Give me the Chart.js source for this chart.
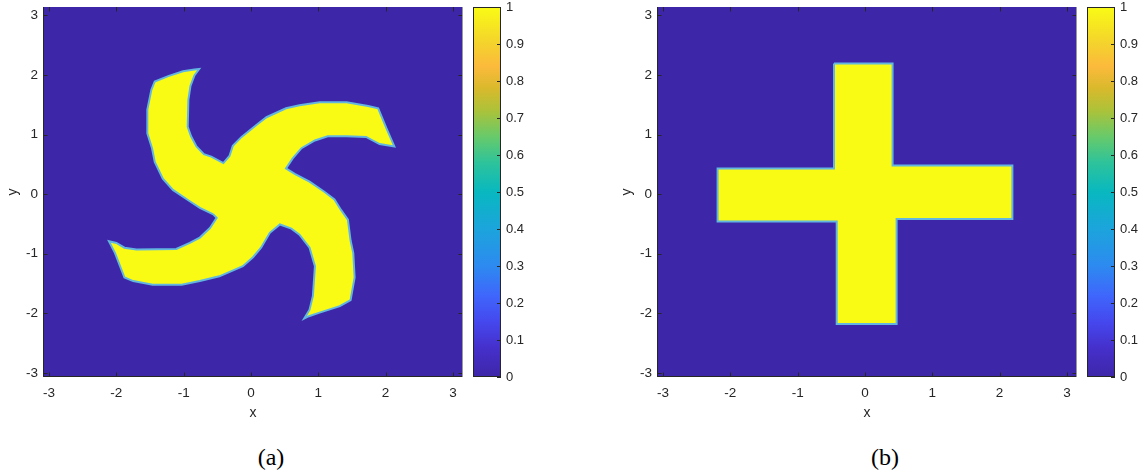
<!DOCTYPE html>
<html>
<head>
<meta charset="utf-8">
<script src="https://cdn.jsdelivr.net/npm/chart.js@4.4.1/dist/chart.umd.min.js"></script>
<style>
  body { margin: 0; background: #fff; width: 1141px; height: 476px; position: relative; overflow: hidden; }
  canvas { position: absolute; top: 0; }
  .cap { position: absolute; top: 443px; width: 60px; line-height: 28px; text-align: center;
         font-family: "Liberation Serif", serif; font-size: 24px; color: #000; }
</style>
</head>
<body>
<canvas id="plotA" width="470" height="440" style="left:0px"></canvas>
<canvas id="barA" width="68" height="440" style="left:470px"></canvas>
<canvas id="plotB" width="470" height="440" style="left:614px"></canvas>
<canvas id="barB" width="68" height="440" style="left:1084px"></canvas>
<div class="cap" style="left:241px">(a)</div>
<div class="cap" style="left:855px">(b)</div>

<script>
// axis ticks and limits
const xTicks = [-3, -2, -1, 0, 1, 2, 3];
const yTicks = [-3, -2, -1, 0, 1, 2, 3];
const cbTicks = [0, 0.1, 0.2, 0.3, 0.4, 0.5, 0.6, 0.7, 0.8, 0.9, 1];
const xLimits = [-3.09, 3.15];
const yLimits = [-3.07, 3.14];
const cbValue = [1];

// (a) pinwheel outline, one arm at a time: outer edge -> tip -> inner edge -> notch
const armUpper = [
    [-0.56, -0.34], [-0.76, -0.23], [-0.91, -0.12], [-1.16, 0.07], [-1.31, 0.26],
    [-1.43, 0.54], [-1.47, 0.77], [-1.54, 1.02], [-1.54, 1.42], [-1.48, 1.75],
    [-1.43, 1.89], [-1.23, 1.98], [-1.01, 2.06], [-0.84, 2.09], [-0.77, 2.10],
    [-0.84, 1.99], [-0.90, 1.81], [-0.93, 1.58], [-0.94, 1.13], [-0.89, 0.97],
    [-0.81, 0.80], [-0.70, 0.67], [-0.59, 0.63], [-0.41, 0.52]
];
const armRight = [
    [-0.32, 0.64], [-0.27, 0.81], [-0.14, 0.96], [0.08, 1.16], [0.23, 1.29],
    [0.52, 1.44], [0.72, 1.49], [1.02, 1.54], [1.42, 1.54], [1.74, 1.48],
    [1.89, 1.44], [2.01, 1.11], [2.13, 0.80], [1.91, 0.84], [1.71, 0.96],
    [1.42, 0.97], [1.14, 0.97], [0.95, 0.90], [0.75, 0.77], [0.62, 0.60],
    [0.52, 0.43]
];
const armLower = [
    [0.65, 0.34], [0.87, 0.21], [1.09, 0.04], [1.24, -0.09], [1.34, -0.27],
    [1.44, -0.43], [1.48, -0.78], [1.52, -0.99], [1.54, -1.40], [1.48, -1.78],
    [1.32, -1.88], [1.02, -1.99], [0.86, -2.05], [0.79, -2.09], [0.87, -1.94],
    [0.92, -1.71], [0.95, -1.21], [0.87, -0.90], [0.72, -0.68], [0.60, -0.58],
    [0.43, -0.51]
];
const armLeft = [
    [0.28, -0.65], [0.15, -0.90], [0.03, -1.06], [-0.12, -1.21], [-0.47, -1.38],
    [-0.76, -1.46], [-1.03, -1.52], [-1.46, -1.52], [-1.75, -1.46], [-1.88, -1.40],
    [-2.02, -0.99], [-2.11, -0.79], [-2.00, -0.82], [-1.88, -0.90], [-1.70, -0.93],
    [-1.11, -0.92], [-0.91, -0.82], [-0.76, -0.73], [-0.61, -0.57], [-0.51, -0.40]
];

// (b) cross outline
const crossOutline = [
    [-0.46, 2.19], [0.41, 2.19], [0.41, 0.48], [2.19, 0.48], [2.19, -0.42],
    [0.47, -0.42], [0.47, -2.18], [-0.42, -2.18], [-0.42, -0.46], [-2.19, -0.46],
    [-2.19, 0.43], [-0.46, 0.43]
];

// styles
const TXT = '#262626';
const FONT = '"Liberation Sans", Arial, sans-serif';
const LOW = '#3E26A8';
const HIGH = '#F9FB15';
const EDGE = '#62B6E0';
const parula = [
    [0.00, '#3E26A8'], [0.08, '#4530CC'], [0.15, '#4548EE'], [0.22, '#3F66FC'],
    [0.30, '#2D8AF0'], [0.40, '#1CA4DC'], [0.50, '#08B8C0'], [0.58, '#2EC39A'],
    [0.65, '#68CA6A'], [0.72, '#ACC239'], [0.78, '#D9B92C'], [0.84, '#FCBA3C'],
    [0.90, '#F4D22D'], [1.00, '#F9FB15']
];

Chart.defaults.color = TXT;
Chart.defaults.font.family = FONT;

function toPoints(outline) {
    const pts = outline.map(([x, y]) => ({x, y}));
    pts.push({x: outline[0][0], y: outline[0][1]});
    return pts;
}

function noPadding(s) {
    s.paddingLeft = 0; s.paddingRight = 0; s.paddingTop = 0; s.paddingBottom = 0;
}

// blue background, inward ticks and axes box
const axesBox = {
    id: 'axesBox',
    beforeDraw(chart) {
        const {ctx, chartArea: a} = chart;
        ctx.save();
        ctx.fillStyle = LOW;
        ctx.fillRect(a.left, a.top, a.width, a.height);
        ctx.restore();
    },
    afterDraw(chart) {
        const {ctx, chartArea: a, scales: {x, y}} = chart;
        ctx.save();
        ctx.strokeStyle = TXT;
        ctx.lineWidth = 1;
        ctx.beginPath();
        xTicks.forEach(v => {
            const px = Math.round(x.getPixelForValue(v)) + 0.5;
            ctx.moveTo(px, a.bottom); ctx.lineTo(px, a.bottom - 4.5);
            ctx.moveTo(px, a.top); ctx.lineTo(px, a.top + 4.5);
        });
        yTicks.forEach(v => {
            const py = Math.round(y.getPixelForValue(v)) + 0.5;
            ctx.moveTo(a.left, py); ctx.lineTo(a.left + 4.5, py);
            ctx.moveTo(a.right, py); ctx.lineTo(a.right - 4.5, py);
        });
        ctx.stroke();
        ctx.beginPath();
        ctx.moveTo(a.left + 0.5, a.top);
        ctx.lineTo(a.left + 0.5, a.bottom - 0.5);
        ctx.lineTo(a.right, a.bottom - 0.5);
        ctx.stroke();
        ctx.strokeStyle = '#9a9a9a';
        ctx.beginPath();
        ctx.moveTo(a.right - 0.5, a.top);
        ctx.lineTo(a.right - 0.5, a.bottom);
        ctx.stroke();
        ctx.restore();
    }
};

function drawPlot(id, outline) {
    new Chart(document.getElementById(id), {
        type: 'scatter',
        data: {
            datasets: [{
                data: toPoints(outline),
                showLine: true,
                fill: 'shape',
                backgroundColor: HIGH,
                borderColor: EDGE,
                borderWidth: 2,
                pointRadius: 0,
                tension: 0
            }]
        },
        options: {
            responsive: false,
            animation: false,
            devicePixelRatio: 1,
            events: [],
            layout: {padding: {top: 7, right: 7, left: 0, bottom: 0}},
            plugins: {legend: {display: false}, tooltip: {enabled: false}},
            scales: {
                x: {
                    type: 'linear', min: xLimits[0], max: xLimits[1],
                    afterBuildTicks: s => { s.ticks = xTicks.map(v => ({value: v})); },
                    afterFit: s => { s.height = 63; noPadding(s); },
                    grid: {display: false, drawTicks: false},
                    border: {display: false},
                    ticks: {padding: 8, autoSkip: false, maxRotation: 0, font: {size: 13.5}, callback: v => String(v)},
                    title: {display: true, text: 'x', font: {size: 14}, padding: {top: 0, bottom: 18}}
                },
                y: {
                    type: 'linear', min: yLimits[0], max: yLimits[1],
                    afterBuildTicks: s => { s.ticks = yTicks.map(v => ({value: v})); },
                    afterFit: s => { s.width = 43; noPadding(s); },
                    grid: {display: false, drawTicks: false},
                    border: {display: false},
                    ticks: {padding: 5, autoSkip: false, font: {size: 13.5}, callback: v => String(v)},
                    title: {display: true, text: 'y', font: {size: 14}, padding: {top: 5, bottom: 0}}
                }
            }
        },
        plugins: [axesBox]
    });
}

// colorbar frame and ticks
const cbBox = {
    id: 'cbBox',
    afterDraw(chart) {
        const {ctx, chartArea: a, scales: {y}} = chart;
        ctx.save();
        ctx.strokeStyle = TXT;
        ctx.lineWidth = 1;
        ctx.strokeRect(a.left + 0.5, a.top + 0.5, a.width - 1, a.height - 1);
        ctx.beginPath();
        cbTicks.forEach(v => {
            const py = Math.round(y.getPixelForValue(v)) + 0.5;
            ctx.moveTo(a.right, py); ctx.lineTo(a.right - 4, py);
        });
        ctx.stroke();
        ctx.restore();
    }
};

function parulaGradient(chart) {
    const a = chart.chartArea;
    if (!a) return LOW;
    const g = chart.ctx.createLinearGradient(0, a.bottom, 0, a.top);
    parula.forEach(([t, c]) => g.addColorStop(t, c));
    return g;
}

function drawColorbar(id) {
    new Chart(document.getElementById(id), {
        type: 'bar',
        data: {
            labels: [''],
            datasets: [{
                data: cbValue,
                backgroundColor: ctx => parulaGradient(ctx.chart),
                borderWidth: 0,
                barPercentage: 1,
                categoryPercentage: 1
            }]
        },
        options: {
            responsive: false,
            animation: false,
            devicePixelRatio: 1,
            events: [],
            layout: {padding: {left: 3, top: 7, bottom: 63, right: 0}},
            plugins: {legend: {display: false}, tooltip: {enabled: false}},
            scales: {
                x: {display: false},
                y: {
                    position: 'right', min: 0, max: 1,
                    afterBuildTicks: s => { s.ticks = cbTicks.map(v => ({value: v})); },
                    afterFit: s => { s.width = 37; noPadding(s); },
                    grid: {display: false, drawTicks: false},
                    border: {display: false},
                    ticks: {padding: 5, autoSkip: false, font: {size: 13}, callback: v => String(v)}
                }
            }
        },
        plugins: [cbBox]
    });
}

drawPlot('plotA', [...armUpper, ...armRight, ...armLower, ...armLeft]);
drawColorbar('barA');
drawPlot('plotB', crossOutline);
drawColorbar('barB');
</script>
</body>
</html>
